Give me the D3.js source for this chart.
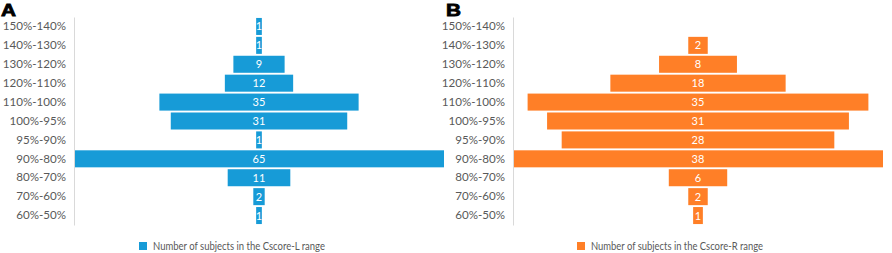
<!DOCTYPE html>
<html><head><meta charset="utf-8">
<script src="https://cdn.jsdelivr.net/npm/d3@7"></script>
<style>body{margin:0;background:#fff}svg{display:block}</style>
</head><body>
<svg id="c" width="892" height="253"></svg>
<script>
const categories = ["150%-140%","140%-130%","130%-120%","120%-110%","110%-100%","100%-95%","95%-90%","90%-80%","80%-70%","70%-60%","60%-50%"];
const leftCounts = [1,1,9,12,35,31,1,65,11,2,1];
const rightCounts = [0,2,8,18,35,31,28,38,6,2,1];
const panelLetters = ["A","B"];
const legendLabels = ["Number of subjects in the Cscore-L range","Number of subjects in the Cscore-R range"];
const colors = ["#179BD7","#FF7F27"];

const svg = d3.select("#c");
const font = "Lato, 'Open Sans', sans-serif";
const panels = [
  {values:leftCounts, x0:74, x1:444, lx:1, legX:139, letter:panelLetters[0], legend:legendLabels[0], color:colors[0]},
  {values:rightCounts, x0:513, x1:883, lx:446, legX:577, letter:panelLetters[1], legend:legendLabels[1], color:colors[1]}
];
const y = d3.scaleBand().domain(categories).range([17,225]).paddingInner(0.1).paddingOuter(0.05);

panels.forEach(p => {
  const g = svg.append("g");
  const m = d3.max(p.values);
  const x = d3.scaleLinear().domain([-m/2, m/2]).range([p.x0, p.x1]);
  const data = categories.map((c,i)=>({c, v:p.values[i]}));
  g.selectAll("rect.bar").data(data.filter(d=>d.v>0)).join("rect")
    .attr("class","bar")
    .attr("x", d=>x(-d.v/2)).attr("width", d=>x(d.v/2)-x(-d.v/2))
    .attr("y", d=>y(d.c)).attr("height", y.bandwidth())
    .attr("fill", p.color);
  g.selectAll("text.val").data(data.filter(d=>d.v>0)).join("text")
    .attr("class","val")
    .attr("x", x(0)).attr("y", d=>y(d.c)+y.bandwidth()/2)
    .attr("dy","0.36em").attr("text-anchor","middle")
    .attr("fill","#fff").attr("font-family",font).attr("font-size",11)
    .text(d=>d.v);
  const ax = g.append("g").attr("transform",`translate(${p.x0},0)`)
    .call(d3.axisLeft(y).tickSize(0).tickPadding(8));
  ax.select(".domain").attr("stroke","#d9d9d9").attr("stroke-width",1);
  ax.selectAll("text").attr("fill","#595959").attr("font-family",font).attr("font-size",11.6);
  svg.append("text").attr("x",p.lx).attr("y",16).attr("font-family","'Liberation Sans', Arial, sans-serif")
    .attr("font-weight","bold").attr("font-size",17).attr("fill","#000")
    .attr("stroke","#000").attr("stroke-width",0.8)
    .attr("textLength",15).attr("lengthAdjust","spacingAndGlyphs").text(p.letter);
  svg.append("rect").attr("x",p.legX).attr("y",242).attr("width",8).attr("height",8).attr("fill",p.color);
  svg.append("text").attr("x",p.legX+14).attr("y",246).attr("dy","0.36em")
    .attr("font-family",font).attr("font-size",11).attr("fill","#595959")
    .attr("textLength",172).attr("lengthAdjust","spacingAndGlyphs").text(p.legend);
});
</script>
</body></html>
